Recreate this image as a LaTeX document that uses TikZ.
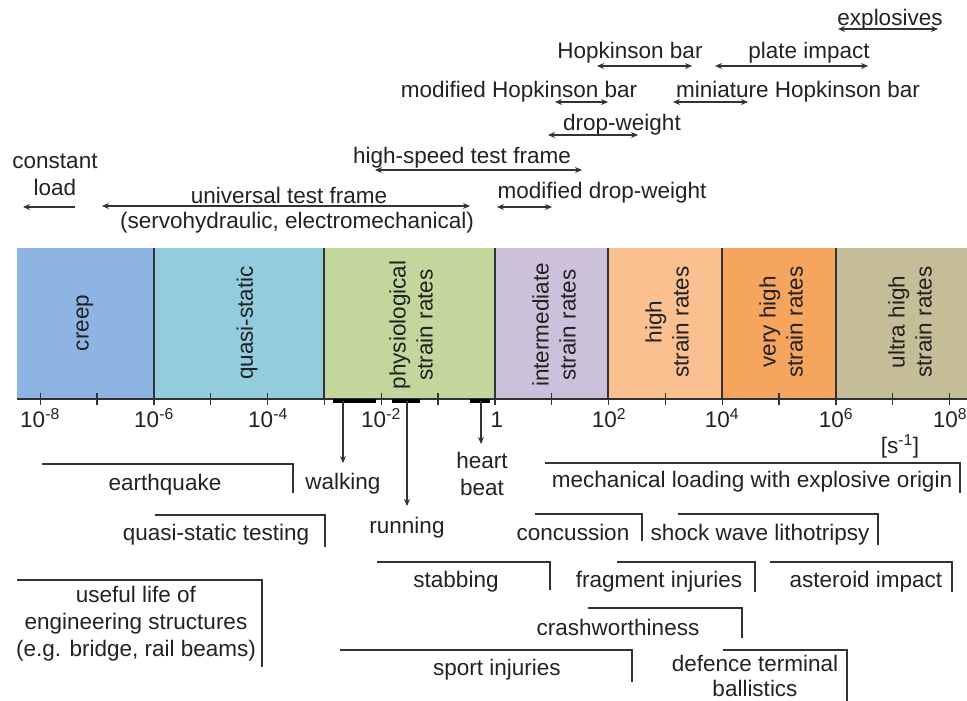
\documentclass[tikz,border=0pt]{standalone}
\usepackage{fontspec}
\setmainfont{Liberation Sans}
\usetikzlibrary{arrows.meta}
\definecolor{creepc}{HTML}{8EB4E3}
\definecolor{quasic}{HTML}{93CDDD}
\definecolor{physc}{HTML}{C3D69B}
\definecolor{interc}{HTML}{CCC1DA}
\definecolor{highc}{HTML}{FAC090}
\definecolor{vhighc}{HTML}{F6A55E}
\definecolor{ultrac}{HTML}{C4BD97}
\definecolor{inkc}{HTML}{222222}
\definecolor{linec}{HTML}{333333}
\begin{document}
\begin{tikzpicture}[x=1pt,y=-1pt,
  lbl/.style={font=\fontsize{22.5}{27}\selectfont, text=inkc, inner sep=0pt, align=center},
  bl/.style={lbl, anchor=base},
  rl/.style={lbl, rotate=90},
  dbl/.style={{Stealth[length=7pt,width=6pt]}-{Stealth[length=7pt,width=6pt]}, line width=1.5pt, draw=linec},
  sgl/.style={-{Stealth[length=7pt,width=6pt]}, line width=1.5pt, draw=linec},
  brk/.style={line width=1.8pt, draw=linec},
  bound/.style={line width=1.5pt, draw=linec},
  bar/.style={line width=4pt, draw=black}]
\useasboundingbox (0,0) rectangle (967,701);

% ---- strain-rate band ----
\fill[creepc] (17,248) rectangle (154,399);
\fill[quasic] (154,248) rectangle (324,399);
\fill[physc] (324,248) rectangle (495,399);
\fill[interc] (495,248) rectangle (608,399);
\fill[highc] (608,248) rectangle (722,399);
\fill[vhighc] (722,248) rectangle (836,399);
\fill[ultrac] (836,248) rectangle (967,399);
\foreach \bx in {154,324,495,608,722,836} \draw[bound] (\bx,248) -- (\bx,399);
\draw[line width=2.2pt, draw=linec] (17,399) -- (967,399);
\foreach \k in {0,...,16} \draw[line width=1.3pt, draw=linec] ({40.3+\k*56.83},393) -- ({40.3+\k*56.83},405);

\node[rl] (creep) at (85,323) {creep};
\node[rl] (quasi) at (247,323) {quasi-static};
\node[rl] (phys) at (411,325) {physiological\\strain rates};
\node[rl] (inter) at (554,325) {intermediate\\strain rates};
\node[rl] (high) at (667,322) {high\\strain rates};
\node[rl] (vhigh) at (781,322) {very high\\strain rates};
\node[rl] (ultra) at (910,322) {ultra high\\strain rates};

% ---- tick labels ----
\node[bl] (t1) at (40,427) {10\textsuperscript{-8}};
\node[bl] (t2) at (154,427) {10\textsuperscript{-6}};
\node[bl] (t3) at (268,427) {10\textsuperscript{-4}};
\node[bl] (t4) at (381,427) {10\textsuperscript{-2}};
\node[bl] (t5) at (497,427) {1};
\node[bl] (t6) at (609,427) {10\textsuperscript{2}};
\node[bl] (t7) at (722,427) {10\textsuperscript{4}};
\node[bl] (t8) at (836,427) {10\textsuperscript{6}};
\node[bl] (t9) at (950,427) {10\textsuperscript{8}};
\node[bl] (unit) at (900,453) {[s\textsuperscript{-1}]};

% ---- physiological markers ----
\draw[bar] (333,401) -- (376,401);
\draw[bar] (392,401) -- (420,401);
\draw[bar] (470,401) -- (490,401);
\coordinate (walkS) at (343,401); \coordinate (walkE) at (343,463);
\coordinate (runS) at (407,401); \coordinate (runE) at (407,506);
\coordinate (heartS) at (481,401); \coordinate (heartE) at (481,444);
\draw[sgl] (walkS) -- (walkE);
\draw[sgl] (runS) -- (runE);
\draw[sgl] (heartS) -- (heartE);
\node[bl] (walking) at (343,489) {walking};
\node[bl] (running) at (407,533) {running};
\node[lbl] (heart) at (482,474) {heart\\beat};

% ---- test methods (top) ----
\node[bl] (explo) at (890,26) {explosives};
\draw[dbl] (838,29) -- (938,29);
\node[bl] (hop) at (630,59) {Hopkinson bar};
\draw[dbl] (597,66) -- (692,66);
\node[bl] (plate) at (809,59) {plate impact};
\draw[dbl] (715,66) -- (868,66);
\node[bl] (mhop) at (519,97) {modified Hopkinson bar};
\draw[dbl] (555,102) -- (608,102);
\node[bl] (minihop) at (798,97) {miniature Hopkinson bar};
\draw[dbl] (673,102) -- (748,102);
\node[bl] (drop) at (622,130) {drop-weight};
\draw[dbl] (548,135) -- (638,135);
\node[bl] (hsf) at (462,163) {high-speed test frame};
\draw[dbl] (375,170) -- (582,170);
\node[bl] (mdrop) at (602,198) {modified drop-weight};
\draw[dbl] (497,207) -- (552,207);
\node[bl] (utf) at (289,203) {universal test frame};
\draw[dbl] (102,206) -- (470,206);
\node[bl] (servo) at (297,228) {(servohydraulic, electromechanical)};
\node[lbl] (const) at (55,175) {constant\\load};
\draw[sgl] (75,207) -- (23,207);

% ---- applications (bottom) ----
\draw[brk] (42,464) -| (293,493);
\node[bl] (quake) at (165,490) {earthquake};
\draw[brk] (155,515) -| (325,547);
\node[bl] (qst) at (216,540) {quasi-static testing};
\draw[brk] (17,580) -| (262,667);
\node[lbl] (life) at (136,624) {useful life of\\engineering structures\\(e.g. bridge, rail beams)};
\draw[brk] (545,463) -| (960,493);
\node[bl] (mech) at (752,487) {mechanical loading with explosive origin};
\draw[brk] (535,514) -| (642,541);
\node[bl] (conc) at (573,540) {concussion};
\draw[brk] (678,514) -| (878,545);
\node[bl] (swl) at (760,540) {shock wave lithotripsy};
\draw[brk] (377,562) -| (550,590);
\node[bl] (stab) at (456,587) {stabbing};
\draw[brk] (617,562) -| (755,592);
\node[bl] (frag) at (659,587) {fragment injuries};
\draw[brk] (770,562) -| (952,592);
\node[bl] (aster) at (866,587) {asteroid impact};
\draw[brk] (588,608) -| (742,638);
\node[bl] (crash) at (618,635) {crashworthiness};
\draw[brk] (340,650) -| (632,682);
\node[bl] (sport) at (497,675) {sport injuries};
\draw[brk] (723,650) -| (847,701);
\node[lbl, font=\fontsize{22.5}{25}\selectfont] (def) at (755,676) {defence terminal\\ballistics};
\end{tikzpicture}
\end{document}
